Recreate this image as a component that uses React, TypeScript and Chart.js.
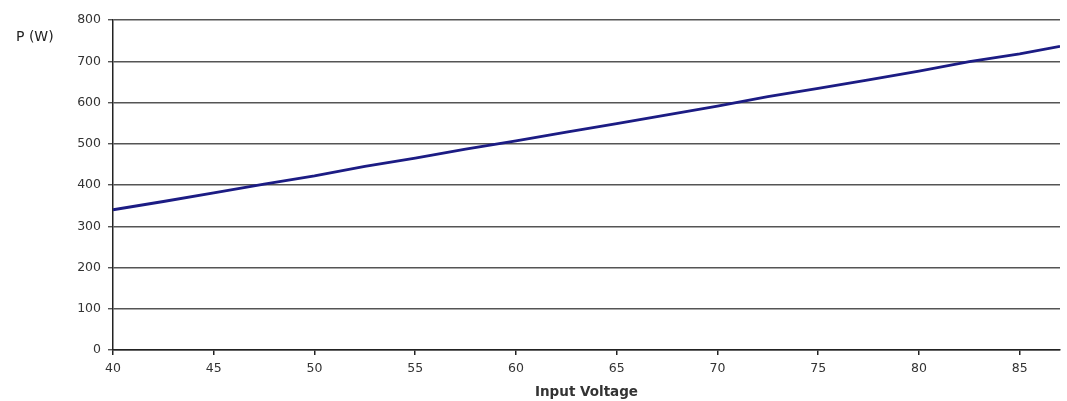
import React, { useEffect, useRef } from "react";
import { Chart, registerables } from "chart.js";

Chart.register(...registerables);

const voltages = [40, 42.5, 45, 47.5, 50, 52.5, 55, 57.5, 60, 62.5, 65, 67.5, 70, 72.5, 75, 77.5, 80, 82.5, 85, 87];
const powers = [340, 360, 381, 402, 422, 445, 465, 487, 507, 528, 549, 570, 591, 614, 634, 655, 676, 699, 718, 736];
const yTickValues = [0, 100, 200, 300, 400, 500, 600, 700, 800];
const xTickValues = [40, 45, 50, 55, 60, 65, 70, 75, 80, 85];
const xTitle = "Input Voltage";
const yTitle = "P (W)";

const FONT = "'DejaVu Sans', Arial, sans-serif";

export default function App() {
  const ref = useRef<HTMLCanvasElement | null>(null);

  useEffect(() => {
    if (!ref.current) return;
    const yLabelPlugin = {
      id: "yLabel",
      afterDraw(chart: any) {
        const ctx = chart.ctx;
        ctx.save();
        ctx.fillStyle = "#222";
        ctx.font = `14px ${FONT}`;
        ctx.textBaseline = "middle";
        ctx.textAlign = "left";
        ctx.fillText(yTitle, 16, 37);
        ctx.restore();
      },
    };
    const chart = new Chart(ref.current, {
      type: "line",
      data: {
        datasets: [
          {
            data: voltages.map((v, i) => ({ x: v, y: powers[i] })),
            borderColor: "#1c1c84",
            borderWidth: 2.8,
            pointRadius: 0,
            tension: 0,
            fill: false,
          },
        ],
      },
      options: {
        animation: false,
        responsive: false,
        devicePixelRatio: 1,
        layout: { padding: { left: 0, right: 7, top: 20, bottom: 0 } },
        plugins: { legend: { display: false }, tooltip: { enabled: false } },
        scales: {
          x: {
            type: "linear",
            min: 40,
            max: 87,
            afterBuildTicks: (scale: any) => {
              scale.ticks = xTickValues.map((v) => ({ value: v }));
            },
            afterFit: (scale: any) => {
              scale.height = 51;
            },
            ticks: {
              font: { family: FONT, size: 12.5 },
              color: "#333",
              padding: 6,
              maxRotation: 0,
              autoSkip: false,
            },
            grid: {
              drawOnChartArea: false,
              drawTicks: true,
              tickLength: 5,
              color: "#222",
              lineWidth: 1.5,
            },
            border: { display: true, color: "#222", width: 1.5 },
            title: {
              display: true,
              text: xTitle,
              font: { family: FONT, size: 13.5, weight: "bold" },
              color: "#333",
              padding: { top: 0, bottom: 0 },
            },
          },
          y: {
            type: "linear",
            min: 0,
            max: 800,
            afterBuildTicks: (scale: any) => {
              scale.ticks = yTickValues.map((v) => ({ value: v }));
            },
            afterFit: (scale: any) => {
              scale.width = 113;
            },
            ticks: {
              font: { family: FONT, size: 12.5 },
              color: "#333",
              padding: 7,
            },
            grid: {
              drawTicks: true,
              tickLength: 5,
              color: "#555",
              lineWidth: 1.4,
            },
            border: { display: true, color: "#222", width: 1.5 },
          },
        },
      },
      plugins: [yLabelPlugin],
    });
    return () => chart.destroy();
  }, []);

  return (
    <div style={{ position: "absolute", left: 0, top: 0, width: 1067, height: 401, background: "#fff" }}>
      <canvas ref={ref} width={1067} height={401} style={{ width: 1067, height: 401, display: "block" }} />
    </div>
  );
}
